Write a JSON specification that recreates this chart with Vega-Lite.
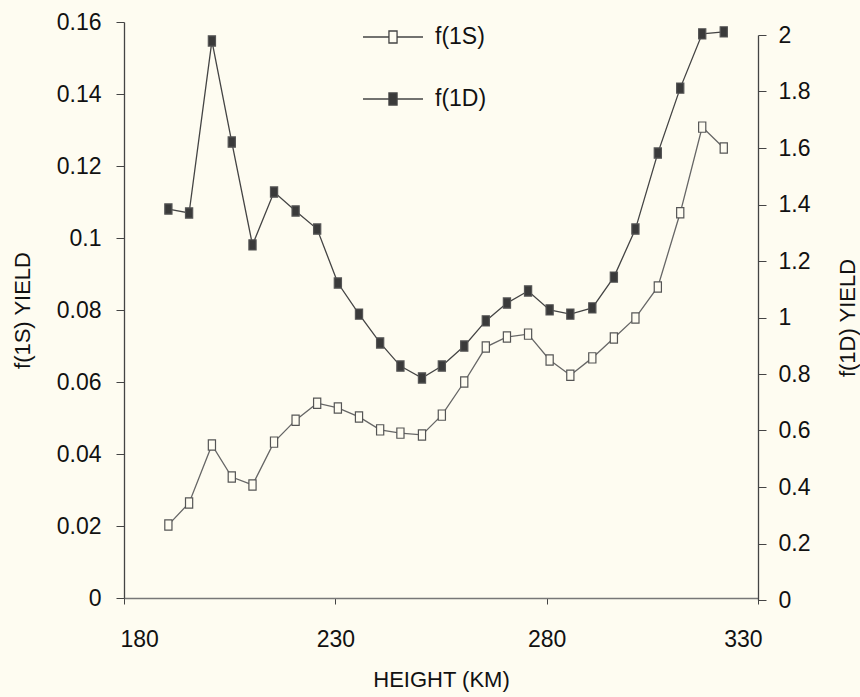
{
  "$schema": "https://vega.github.io/schema/vega-lite/v6.json",
  "width": 634,
  "height": 576,
  "autosize": {"type": "none"},
  "padding": {"left": 124, "top": 22, "right": 102, "bottom": 99},
  "background": "#fefcf1",
  "config": {
    "view": {"stroke": null},
    "font": "Liberation Sans",
    "axis": {
      "grid": false,
      "domainColor": "#444444",
      "domainWidth": 1.3,
      "tickColor": "#444444",
      "tickSize": 8,
      "labelFont": "Liberation Sans",
      "labelFontSize": 23,
      "labelColor": "#111111",
      "titleFont": "Liberation Sans",
      "titleFontSize": 22,
      "titleFontWeight": "normal",
      "titleColor": "#111111"
    }
  },
  "data": {
    "values": [
      {"h": 190.5, "s": 0.0203, "d": 1.384},
      {"h": 195.4, "s": 0.0264, "d": 1.370},
      {"h": 200.8, "s": 0.0425, "d": 1.979},
      {"h": 205.5, "s": 0.0336, "d": 1.621},
      {"h": 210.4, "s": 0.0314, "d": 1.257},
      {"h": 215.5, "s": 0.0433, "d": 1.444},
      {"h": 220.6, "s": 0.0494, "d": 1.377},
      {"h": 225.7, "s": 0.0541, "d": 1.313},
      {"h": 230.6, "s": 0.0528, "d": 1.122},
      {"h": 235.6, "s": 0.0503, "d": 1.012},
      {"h": 240.6, "s": 0.0467, "d": 0.910},
      {"h": 245.4, "s": 0.0458, "d": 0.828},
      {"h": 250.5, "s": 0.0453, "d": 0.786},
      {"h": 255.2, "s": 0.0508, "d": 0.828},
      {"h": 260.5, "s": 0.0600, "d": 0.899},
      {"h": 265.6, "s": 0.0697, "d": 0.988},
      {"h": 270.6, "s": 0.0725, "d": 1.051},
      {"h": 275.6, "s": 0.0733, "d": 1.094},
      {"h": 280.7, "s": 0.0661, "d": 1.027},
      {"h": 285.6, "s": 0.0619, "d": 1.012},
      {"h": 290.8, "s": 0.0667, "d": 1.034},
      {"h": 295.9, "s": 0.0722, "d": 1.143},
      {"h": 301.0, "s": 0.0778, "d": 1.313},
      {"h": 306.3, "s": 0.0864, "d": 1.582},
      {"h": 311.6, "s": 0.1070, "d": 1.812},
      {"h": 316.8, "s": 0.1308, "d": 2.004},
      {"h": 321.9, "s": 0.1250, "d": 2.011}
    ]
  },
  "layer": [
    {
      "encoding": {
        "x": {
          "field": "h",
          "type": "quantitative",
          "scale": {"domain": [180, 330], "nice": false, "zero": false},
          "axis": {
            "title": "HEIGHT (KM)",
            "values": [180, 230, 280, 330],
            "labelFlush": true,
            "labelFlushOffset": 4,
            "labelPadding": 24,
            "titlePadding": 18,
            "domainColor": "#777777",
            "tickSize": 6
          }
        },
        "y": {
          "field": "s",
          "type": "quantitative",
          "scale": {"domain": [0, 0.16], "nice": false},
          "axis": {
            "title": "f(1S) YIELD",
            "orient": "left",
            "values": [0, 0.02, 0.04, 0.06, 0.08, 0.1, 0.12, 0.14, 0.16],
            "format": "~g",
            "labelPadding": 15,
            "titlePadding": 22
          }
        }
      },
      "layer": [
        {"mark": {"type": "line", "stroke": "#666666", "strokeWidth": 1.3}},
        {
          "mark": {
            "type": "point",
            "filled": true,
            "opacity": 1,
            "shape": "M-0.35,-0.5H0.35V0.5H-0.35Z",
            "size": 420,
            "stroke": "#555555",
            "strokeWidth": 1.2
          },
          "encoding": {
            "fill": {
              "datum": "f(1S)",
              "type": "nominal",
              "scale": {"domain": ["f(1S)", "f(1D)"], "range": ["#fefcf1", "#3a3a3a"]},
              "legend": {
                "title": null,
                "orient": "none",
                "legendX": 253,
                "legendY": -1,
                "symbolType": "M-2,0H-0.27M0.27,0H2M-0.27,-0.4H0.27V0.4H-0.27Z",
                "symbolSize": 900,
                "symbolStrokeWidth": 1.3,
                "symbolStrokeColor": "#444444",
                "labelFont": "Liberation Sans",
                "labelFontSize": 23,
                "labelColor": "#111111",
                "labelOffset": 26,
                "rowPadding": 34,
                "padding": 0
              }
            }
          }
        }
      ]
    },
    {
      "encoding": {
        "x": {"field": "h", "type": "quantitative"},
        "y": {
          "field": "d",
          "type": "quantitative",
          "scale": {"domain": [0, 2], "nice": false, "range": [578, 13]},
          "axis": {
            "title": "f(1D) YIELD",
            "orient": "right",
            "values": [0, 0.2, 0.4, 0.6, 0.8, 1, 1.2, 1.4, 1.6, 1.8, 2],
            "format": "~g",
            "labelPadding": 12,
            "titleAngle": 270,
            "titlePadding": 50
          }
        }
      },
      "layer": [
        {"mark": {"type": "line", "stroke": "#444444", "strokeWidth": 1.3}},
        {
          "mark": {
            "type": "point",
            "filled": true,
            "opacity": 1,
            "shape": "M-0.35,-0.5H0.35V0.5H-0.35Z",
            "size": 420,
            "stroke": "#555555",
            "strokeWidth": 1.2
          },
          "encoding": {
            "fill": {"datum": "f(1D)", "type": "nominal"}
          }
        }
      ]
    }
  ],
  "resolve": {"scale": {"y": "independent"}}
}
